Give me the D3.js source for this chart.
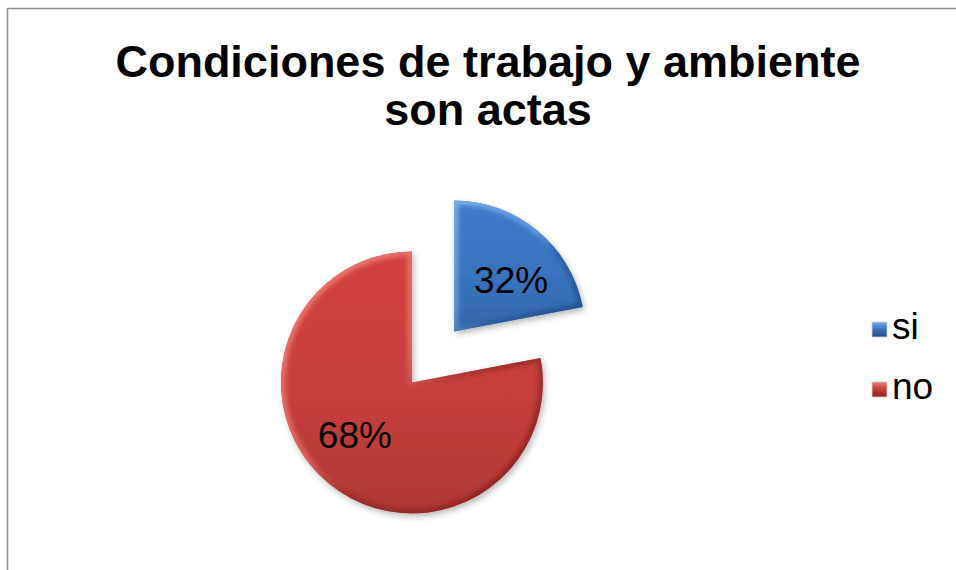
<!DOCTYPE html>
<html>
<head>
<meta charset="utf-8">
<script src="https://cdn.jsdelivr.net/npm/d3@7"></script>
<style>
  html, body { margin: 0; padding: 0; background: #ffffff; }
  svg { display: block; font-family: "Liberation Sans", Arial, sans-serif; }
</style>
</head>
<body>
<svg id="chart" width="956" height="570"></svg>
<script>
// ---- data ----
const categories = ["si", "no"];
const percentLabels = [32, 68];      // data labels printed on the slices
const sliceShares = [22, 78];        // slice sizes as drawn in the picture
const titleLines = ["Condiciones de trabajo y ambiente", "son actas"];
const colors = ["#3a74c0", "#c63f3c"];
const lightColors = ["#79aae6", "#ee7a77"];
const darkColors = ["#24508c", "#8a2220"];

const svg = d3.select("#chart");
const defs = svg.append("defs");

// frame
svg.append("rect")
  .attr("x", 7.5).attr("y", 8.5)
  .attr("width", 1000).attr("height", 600)
  .attr("fill", "none")
  .attr("stroke", "#8c8c8c")
  .attr("stroke-width", 1.5);

// title
const title = svg.append("text")
  .attr("text-anchor", "middle")
  .attr("font-weight", "bold")
  .attr("font-size", 45)
  .attr("fill", "#000");
titleLines.forEach((t, i) => {
  title.append("tspan").attr("x", 488).attr("y", 77 + i * 48).text(t);
});

// pie
const cx = 433, cy = 357, r = 131, explode = 33;
const pie = d3.pie().sort(null).value(d => d.share);
const data = categories.map((c, i) => ({cat: c, share: sliceShares[i], pct: percentLabels[i], i}));
const arcs = pie(data);
const arc = d3.arc().innerRadius(0).outerRadius(r);

// shadow filter
const shadow = defs.append("filter").attr("id", "shadow")
  .attr("x", "-20%").attr("y", "-20%").attr("width", "140%").attr("height", "140%");
shadow.append("feDropShadow")
  .attr("dx", 2).attr("dy", 3).attr("stdDeviation", 3)
  .attr("flood-color", "#000").attr("flood-opacity", 0.28);

const blur = defs.append("filter").attr("id", "bevelBlur");
blur.append("feGaussianBlur").attr("stdDeviation", 2.2);

arcs.forEach((a, k) => {
  const g = defs.append("linearGradient").attr("id", "fill" + k)
    .attr("x1", 0).attr("y1", 0).attr("x2", 0).attr("y2", 1);
  g.append("stop").attr("offset", "0%").attr("stop-color", d3.color(colors[k]).brighter(0.15));
  g.append("stop").attr("offset", "55%").attr("stop-color", colors[k]);
  g.append("stop").attr("offset", "100%").attr("stop-color", d3.color(colors[k]).darker(0.35));

  const e = defs.append("linearGradient").attr("id", "edge" + k)
    .attr("x1", 0).attr("y1", 0).attr("x2", 1).attr("y2", 1);
  e.append("stop").attr("offset", "0%").attr("stop-color", lightColors[k]);
  e.append("stop").attr("offset", "45%").attr("stop-color", lightColors[k]).attr("stop-opacity", 0.6);
  e.append("stop").attr("offset", "60%").attr("stop-color", darkColors[k]).attr("stop-opacity", 0.5);
  e.append("stop").attr("offset", "100%").attr("stop-color", darkColors[k]);

  defs.append("clipPath").attr("id", "clip" + k)
    .append("path").attr("d", arc(a));
});

const slices = svg.append("g").selectAll("g.slice")
  .data(arcs).enter().append("g")
  .attr("class", "slice")
  .attr("transform", d => {
    const mid = (d.startAngle + d.endAngle) / 2;
    return `translate(${cx + explode * Math.sin(mid)},${cy - explode * Math.cos(mid)})`;
  });

slices.append("path")
  .attr("d", arc)
  .attr("fill", (d, k) => `url(#fill${k})`)
  .attr("filter", "url(#shadow)");

slices.append("g")
  .attr("clip-path", (d, k) => `url(#clip${k})`)
  .append("path")
  .attr("d", arc)
  .attr("fill", "none")
  .attr("stroke", (d, k) => `url(#edge${k})`)
  .attr("stroke-width", 9)
  .attr("stroke-linejoin", "round")
  .attr("filter", "url(#bevelBlur)");

// data labels: placed a little past the mid-angle, about 0.59 r from the apex
const labelDist = r * 0.59, labelTurn = 8 * Math.PI / 180;
slices.append("text")
  .attr("transform", d => {
    const a = (d.startAngle + d.endAngle) / 2 + labelTurn;
    return `translate(${labelDist * Math.sin(a)},${-labelDist * Math.cos(a)})`;
  })
  .attr("text-anchor", "middle")
  .attr("dy", "0.36em")
  .attr("font-size", 37)
  .attr("fill", "#000")
  .text(d => d.data.pct + "%");

// legend
data.forEach((d, k) => {
  const lg = defs.append("linearGradient").attr("id", "leg" + k)
    .attr("x1", 0).attr("y1", 0).attr("x2", 0).attr("y2", 1);
  lg.append("stop").attr("offset", "0%").attr("stop-color", lightColors[k]);
  lg.append("stop").attr("offset", "45%").attr("stop-color", colors[k]);
  lg.append("stop").attr("offset", "100%").attr("stop-color", darkColors[k]);
});

const legend = svg.append("g").selectAll("g.leg")
  .data(data).enter().append("g")
  .attr("class", "leg")
  .attr("transform", (d, i) => `translate(872,${322 + i * 60})`);

legend.append("rect")
  .attr("width", 15).attr("height", 15)
  .attr("fill", (d, k) => `url(#leg${k})`)
  .attr("stroke", "#cfcfcf").attr("stroke-width", 0.8);

legend.append("text")
  .attr("x", 20).attr("y", 17)
  .attr("font-size", 37)
  .attr("fill", "#000")
  .text(d => d.cat);
</script>
</body>
</html>
